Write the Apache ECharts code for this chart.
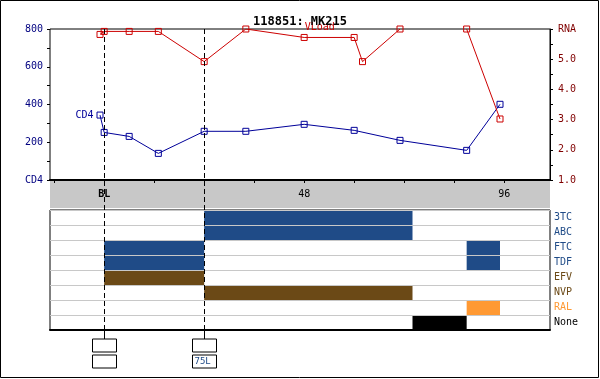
<!DOCTYPE html>
<html><head><meta charset="utf-8">
<script src="https://cdn.jsdelivr.net/npm/echarts@6/dist/echarts.min.js"></script>
<style>html,body{margin:0;padding:0;background:#fff}#c{width:600px;height:379px}</style>
</head><body><div id="c"></div>
<script>
// ---- data ----
const titleText = '118851: MK215';
const cd4Weeks  = [-1, 0, 6, 13, 24, 34, 48, 60, 71, 87, 95];
const cd4Values = [344, 252, 231, 141, 258, 258, 295, 263, 210, 157, 401];
const vlWeeks   = [-1, 0, 6, 13, 24, 34, 48, 60, 62, 71, 79, 87, 95];
const vlValues  = [5.82, 5.92, 5.92, 5.92, 4.92, 6.0, 5.72, 5.72, 4.92, 6.0, null, 6.0, 3.02];
const xTicks = [-12, 0, 12, 24, 36, 48, 60, 72, 84, 96];
const xLabelWeeks = [0, 48, 96];
const cd4Ticks = [0, 200, 400, 600, 800];
const rnaTicks = [1, 2, 3, 4, 5, 6];
const drugs = ['3TC', 'ABC', 'FTC', 'TDF', 'EFV', 'NVP', 'RAL', 'None'];
const regDrug  = ['3TC', 'ABC', 'FTC', 'FTC', 'TDF', 'TDF', 'EFV', 'NVP', 'RAL', 'None'];
const regStart = [24, 24, 0, 87, 0, 87, 0, 24, 87, 74];
const regEnd   = [74, 74, 24, 95, 24, 95, 24, 74, 95, 87];
const eventWeeks = [0, 24];
const eventTop = ['', ''];
const eventBottom = ['', '75L'];

// ---- styles ----
const BLUE = '#1f4b87', BROWN = '#6b4916', ORANGE = '#ff9933';
const drugColor = {'3TC': BLUE, 'ABC': BLUE, 'FTC': BLUE, 'TDF': BLUE, 'EFV': BROWN, 'NVP': BROWN, 'RAL': ORANGE, 'None': '#000'};
const FONT = 'DejaVu Sans Mono';

const chart = echarts.init(document.getElementById('c'), null, {renderer: 'canvas'});

const cd4Data = cd4Weeks.map((w, i) => i === 0
  ? {value: [w, cd4Values[i]], label: {show: true, formatter: 'CD4', position: 'left', distance: 3, color: '#000099', fontFamily: FONT, fontSize: 10}}
  : [w, cd4Values[i]]);
const vlData = vlWeeks.map((w, i) => {
  const v = vlValues[i] === null ? '-' : vlValues[i];
  if (w === 48) return {value: [w, v], label: {show: true, formatter: 'VLoad', position: [4, -12], color: '#cc0000', fontFamily: FONT, fontSize: 10}};
  return [w, v];
});
const regData = regDrug.map((d, i) => [drugs.indexOf(d), regStart[i], regEnd[i]]);

const option = {
  animation: false,
  backgroundColor: '#fff',
  title: {text: titleText, left: 'center', top: 11, textStyle: {fontFamily: FONT, fontSize: 12, fontWeight: 'bold', color: '#000'}},
  grid: [
    {left: 50, right: 50, top: 29, height: 151, show: true, borderColor: '#000', borderWidth: 1, backgroundColor: '#fff'},
    {left: 50, right: 50, top: 180, height: 28, show: true, borderWidth: 0, backgroundColor: '#c8c8c8'},
    {left: 50, right: 50, top: 210, height: 120, show: true, borderColor: '#000', borderWidth: 1, backgroundColor: '#fff'}
  ],
  xAxis: [
    {gridIndex: 0, type: 'value', min: -13, max: 107, z: 5,
     axisLine: {show: true, onZero: false, lineStyle: {color: '#000', width: 2}},
     axisTick: {show: true, customValues: xTicks, length: 3, lineStyle: {color: '#000'}},
     axisLabel: {customValues: xLabelWeeks, margin: 9, fontFamily: FONT, fontSize: 10, color: '#000',
       formatter: v => v === 0 ? '{b|BL}' : String(v),
       rich: {b: {fontWeight: 'bold', fontFamily: FONT, fontSize: 10, color: '#000'}}},
     splitLine: {show: false}},
    {gridIndex: 1, type: 'value', min: -13, max: 107, show: false},
    {gridIndex: 2, type: 'value', min: -13, max: 107,
     axisLine: {show: true, onZero: false, lineStyle: {color: '#000', width: 2}},
     axisTick: {show: false}, axisLabel: {show: false}, splitLine: {show: false}}
  ],
  yAxis: [
    {gridIndex: 0, type: 'value', min: 0, max: 800, interval: 100, position: 'left',
     axisLine: {show: false, onZero: false}, axisTick: {show: true, length: 3, lineStyle: {color: '#000'}},
     axisLabel: {customValues: cd4Ticks, margin: 7, color: '#000080', fontFamily: FONT, fontSize: 10,
       formatter: v => v === 0 ? 'CD4' : String(v)},
     splitLine: {show: false}},
    {gridIndex: 0, type: 'value', min: 1, max: 6, interval: 0.5, position: 'right',
     axisLine: {show: true, onZero: false, lineStyle: {color: '#000'}}, axisTick: {show: true, length: 3, lineStyle: {color: '#000'}},
     axisLabel: {customValues: rnaTicks, margin: 8, color: '#800000', fontFamily: FONT, fontSize: 10,
       formatter: v => v === 6 ? 'RNA' : v.toFixed(1)},
     splitLine: {show: false}},
    {gridIndex: 1, type: 'value', show: false},
    {gridIndex: 2, type: 'category', data: drugs, inverse: true, position: 'right',
     axisLine: {show: false, onZero: false}, axisTick: {show: false},
     axisLabel: {margin: 4, fontFamily: FONT, fontSize: 10, color: (v) => drugColor[v]},
     splitLine: {show: true, lineStyle: {color: '#c8c8c8', width: 1}}}
  ],
  series: [
    {type: 'line', name: 'CD4', xAxisIndex: 0, yAxisIndex: 0, data: cd4Data,
     symbol: 'rect', symbolSize: 6, lineStyle: {color: '#000099', width: 1},
     itemStyle: {color: 'rgba(255,255,255,0)', borderColor: '#000099', borderWidth: 1}, z: 3},
    {type: 'line', name: 'VLoad', xAxisIndex: 0, yAxisIndex: 1, data: vlData, connectNulls: false,
     symbol: 'rect', symbolSize: 6, lineStyle: {color: '#cc0000', width: 1},
     itemStyle: {color: 'rgba(255,255,255,0)', borderColor: '#cc0000', borderWidth: 1}, z: 3},
    {type: 'custom', xAxisIndex: 2, yAxisIndex: 3, data: regData, encode: {x: [1, 2], y: 0},
     renderItem: (params, api) => {
       const c = api.value(0);
       const s = api.coord([api.value(1), c]);
       const e = api.coord([api.value(2), c]);
       const h = api.size([0, 1])[1];
       return {type: 'rect', shape: {x: s[0], y: s[1] - h / 2 + 1, width: e[0] - s[0], height: h - 1},
               style: {fill: drugColor[drugs[c]]}};
     }}
  ]
};
chart.setOption(option);

// event markers derived from the chart's scales
const gTop = chart.getModel().getComponent('grid', 0).coordinateSystem.getRect();
const gBot = chart.getModel().getComponent('grid', 2).coordinateSystem.getRect();
const graphics = [{type: 'rect', shape: {x: 0.5, y: 0.5, width: 598, height: 377}, style: {fill: 'none', stroke: '#000', lineWidth: 1}, z: 100}];
eventWeeks.forEach((w, i) => {
  const x = Math.round(chart.convertToPixel({xAxisIndex: 0}, w)) + 0.5;
  const yBottom = gBot.y + gBot.height;
  graphics.push({type: 'line', shape: {x1: x, y1: gTop.y, x2: x, y2: yBottom}, style: {stroke: '#000', lineWidth: 1, lineDash: [5, 3]}, z: 50});
  graphics.push({type: 'line', shape: {x1: x, y1: yBottom, x2: x, y2: yBottom + 9}, style: {stroke: '#000', lineWidth: 1}, z: 50});
  graphics.push({type: 'rect', shape: {x: x - 12, y: yBottom + 9, width: 24, height: 13}, style: {fill: '#fff', stroke: '#000', lineWidth: 1}, z: 50});
  graphics.push({type: 'rect', shape: {x: x - 12, y: yBottom + 25, width: 24, height: 13}, style: {fill: '#fff', stroke: '#000', lineWidth: 1}, z: 50});
  if (eventTop[i]) graphics.push({type: 'text', x: x - 10, y: yBottom + 11, style: {text: eventTop[i], fill: BLUE, font: '9px ' + FONT}, z: 51});
  if (eventBottom[i]) graphics.push({type: 'text', x: x - 10, y: yBottom + 27, style: {text: eventBottom[i], fill: BLUE, font: '9px ' + FONT}, z: 51});
});
chart.setOption({graphic: graphics});
</script>
</body></html>
